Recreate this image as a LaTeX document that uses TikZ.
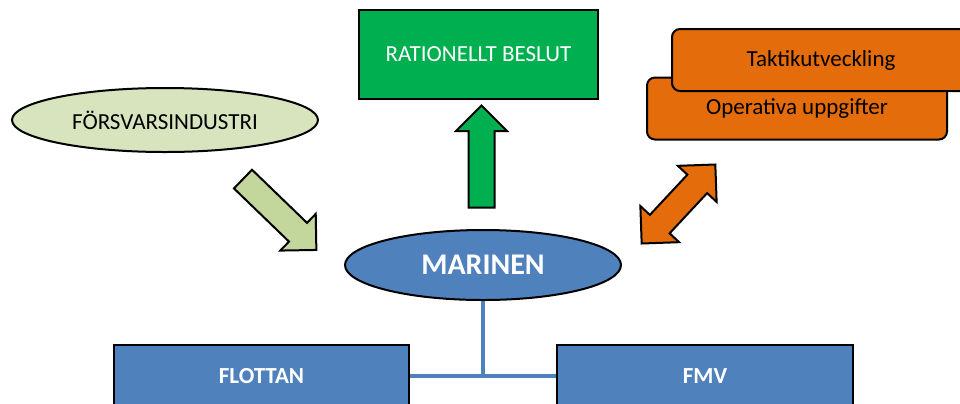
\documentclass[tikz,border=0pt]{standalone}
\usepackage{fontspec}
\setmainfont{Carlito}
\usetikzlibrary{shapes.geometric,shapes.arrows}
\definecolor{lightolive}{HTML}{D7E4BD}
\definecolor{olivearrow}{HTML}{C3D69B}
\definecolor{beslutgreen}{HTML}{00B050}
\definecolor{opsorange}{HTML}{E46C0A}
\definecolor{navyblue}{HTML}{4F81BD}
\begin{document}
\begin{tikzpicture}[x=0.5pt,y=-0.5pt,
    shapeline/.style={draw=black,line width=1pt},
    oval/.style={shapeline,ellipse,inner sep=0pt,font=\fontsize{11.5}{13}\selectfont},
    flatbox/.style={shapeline,rectangle,inner sep=0pt,font=\fontsize{11.5}{13}\selectfont},
    opsbox/.style={flatbox,fill=opsorange,rounded corners=4pt,minimum height=31pt},
    unitbox/.style={flatbox,fill=navyblue,text=white,font=\fontsize{11.5}{13}\selectfont\bfseries,minimum width=148pt,minimum height=31pt},
    bigarrow/.style={shapeline,single arrow,inner xsep=0pt,inner ysep=6pt,single arrow head extend=6.25pt,single arrow tip angle=90},
    twoarrow/.style={shapeline,double arrow,inner xsep=0pt,inner ysep=6.25pt,double arrow head extend=6.5pt,double arrow tip angle=90},
    blueline/.style={draw=navyblue,line width=2pt}]
  \useasboundingbox (0,0) rectangle (960,403);
  \node[oval,fill=lightolive,minimum width=153pt,minimum height=32pt] at (165,120) (industri) {FÖRSVARSINDUSTRI};
  \node[flatbox,fill=beslutgreen,text=white,minimum width=119.5pt,minimum height=44.5pt] at (478.5,54.5) (beslut) {RATIONELLT BESLUT};
  \node[opsbox,minimum width=150pt] at (797,108.5) (operativa) {Operativa uppgifter};
  \node[opsbox,minimum width=149pt] at (821,60) (taktik) {Taktikutveckling};
  \node[bigarrow,fill=olivearrow,minimum height=51pt,rotate=-44] at (275,210) (inpil) {};
  \node[bigarrow,fill=beslutgreen,minimum height=51pt,rotate=90] at (481.5,163) (uppil) {};
  \node[twoarrow,fill=opsorange,minimum height=54pt,rotate=47] at (678.5,204) (dubbelpil) {};
  \node[oval,fill=navyblue,text=white,font=\fontsize{15}{18}\selectfont\bfseries,minimum width=138pt,minimum height=35pt] at (483,265) (marinen) {MARINEN};
  \node[unitbox,minimum width=147.5pt] at (261.5,376) (flottan) {FLOTTAN};
  \node[unitbox] at (705,376) (fmv) {FMV};
  \coordinate (knut) at (483,376);
  \path[blueline] (flottan) edge (fmv);
  \path[blueline] (marinen) edge (knut);
\end{tikzpicture}
\end{document}
